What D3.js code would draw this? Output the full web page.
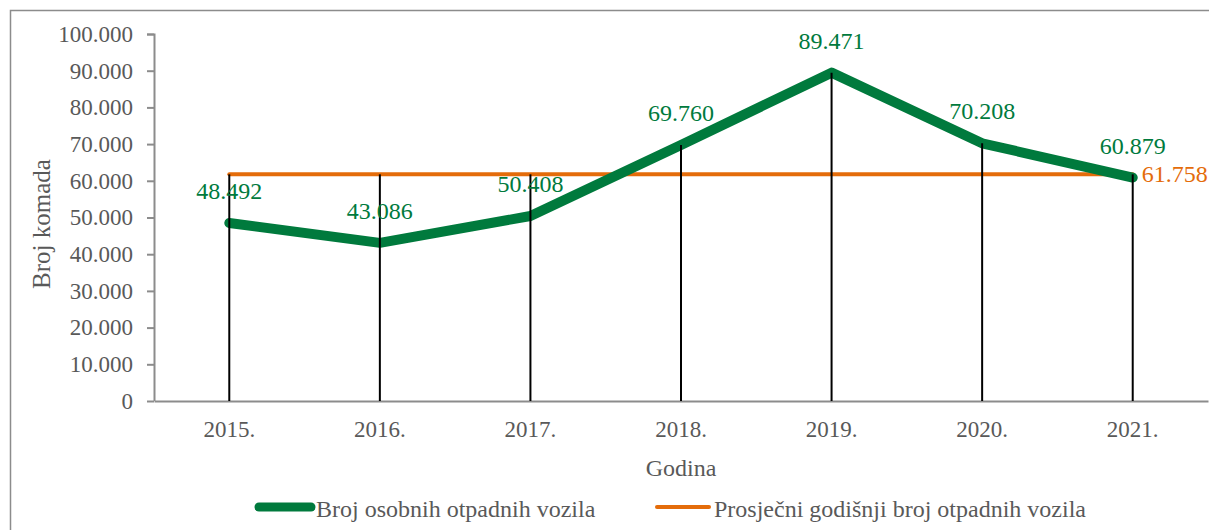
<!DOCTYPE html>
<html>
<head>
<meta charset="utf-8">
<script src="https://cdn.jsdelivr.net/npm/d3@7"></script>
<style>
  body { margin: 0; background: #fff; }
  svg { display: block; font-family: "Liberation Serif", "Times New Roman", serif; }
</style>
</head>
<body>
<div id="chart"></div>
<script>
const years = ['2015.', '2016.', '2017.', '2018.', '2019.', '2020.', '2021.'];
const vehicles = [48492, 43086, 50408, 69760, 89471, 70208, 60879];
const average = [61758, 61758, 61758, 61758, 61758, 61758, 61758];
const yTicks = [0, 10000, 20000, 30000, 40000, 50000, 60000, 70000, 80000, 90000, 100000];
const seriesNames = ['Broj osobnih otpadnih vozila', 'Prosječni godišnji broj otpadnih vozila'];

const GREEN = '#007a3d';
const ORANGE = '#e46c0a';
const GREY = '#595959';
const FONT = '"Liberation Serif", "Times New Roman", serif';

const fmt = (v) => d3.format(',')(v).replace(/,/g, '.');

const width = 1209, height = 530;
const margin = { top: 34, right: 1, bottom: 129, left: 154 };
const innerW = width - margin.left - margin.right;
const innerH = height - margin.top - margin.bottom;

const svg = d3.select('#chart').append('svg')
    .attr('width', width)
    .attr('height', height);

// chart border
svg.append('rect')
    .attr('x', 10.5).attr('y', 10.5)
    .attr('width', width + 20).attr('height', height + 20)
    .attr('fill', 'none')
    .attr('stroke', '#8c8c8c')
    .attr('stroke-width', 1.5);

const g = svg.append('g').attr('transform', `translate(${margin.left},${margin.top})`);

const x = d3.scaleBand().domain(years).range([0, innerW]).padding(0);
const y = d3.scaleLinear().domain([0, 100000]).range([innerH, 0]);
const cx = (d) => x(d) + x.bandwidth() / 2;

// y axis
const yAxis = g.append('g')
    .call(d3.axisLeft(y).tickValues(yTicks).tickSize(7).tickPadding(14).tickFormat(fmt))
    .attr('font-family', FONT)
    .attr('font-size', 23);
yAxis.selectAll('text').attr('fill', GREY);
yAxis.selectAll('line, path').attr('stroke', '#8c8c8c').attr('stroke-width', 2);
yAxis.select('.domain').attr('d', `M-7,0.5H0.5V${innerH}`);

// x axis
const xAxis = g.append('g')
    .attr('transform', `translate(0,${innerH})`)
    .call(d3.axisBottom(x).tickSize(0).tickPadding(20))
    .attr('font-family', FONT)
    .attr('font-size', 23);
xAxis.selectAll('text').attr('fill', GREY);
xAxis.select('.domain').attr('stroke', '#8c8c8c').attr('stroke-width', 2);

// average line
const line = d3.line().x((d, i) => cx(years[i])).y((d) => y(d));
g.append('path')
    .datum(average)
    .attr('fill', 'none')
    .attr('stroke', ORANGE)
    .attr('stroke-width', 4)
    .attr('stroke-linecap', 'round')
    .attr('d', line);

// vehicles line
g.append('path')
    .datum(vehicles)
    .attr('fill', 'none')
    .attr('stroke', GREEN)
    .attr('stroke-width', 10)
    .attr('stroke-linejoin', 'round')
    .attr('stroke-linecap', 'round')
    .attr('d', line);

// drop lines from the highest point in each category
g.selectAll('.drop')
    .data(years)
    .join('line')
    .attr('class', 'drop')
    .attr('x1', cx).attr('x2', cx)
    .attr('y1', (d, i) => y(Math.max(vehicles[i], average[i])))
    .attr('y2', innerH)
    .attr('stroke', '#000')
    .attr('stroke-width', 2);

// value labels
g.selectAll('.vlabel')
    .data(vehicles)
    .join('text')
    .attr('class', 'vlabel')
    .attr('x', (d, i) => cx(years[i]))
    .attr('y', (d) => y(d) - 24)
    .attr('text-anchor', 'middle')
    .attr('fill', GREEN)
    .style('font-size', '24px')
    .text(fmt);

g.append('text')
    .attr('x', cx(years[years.length - 1]) + 9)
    .attr('y', y(average[average.length - 1]) + 8)
    .attr('fill', ORANGE)
    .style('font-size', '24px')
    .text(fmt(average[average.length - 1]));

// axis titles
svg.append('text')
    .attr('transform', 'translate(50,224) rotate(-90)')
    .attr('text-anchor', 'middle')
    .attr('fill', GREY)
    .style('font-size', '25px')
    .text('Broj komada');

svg.append('text')
    .attr('x', 681)
    .attr('y', 476)
    .attr('text-anchor', 'middle')
    .attr('fill', GREY)
    .style('font-size', '24px')
    .text('Godina');

// legend
const legend = svg.append('g').attr('transform', 'translate(0,507)');
const legendItems = [
    { name: seriesNames[0], color: GREEN, w: 9, x: 259, len: 52 },
    { name: seriesNames[1], color: ORANGE, w: 4, x: 657, len: 52 },
];
legendItems.forEach((it) => {
    legend.append('line')
        .attr('x1', it.x).attr('x2', it.x + it.len)
        .attr('stroke', it.color)
        .attr('stroke-width', it.w)
        .attr('stroke-linecap', 'round');
    legend.append('text')
        .attr('x', it.x + it.len + 5)
        .attr('y', 10)
        .attr('fill', GREY)
        .style('font-size', '24px')
        .text(it.name);
});
</script>
</body>
</html>
